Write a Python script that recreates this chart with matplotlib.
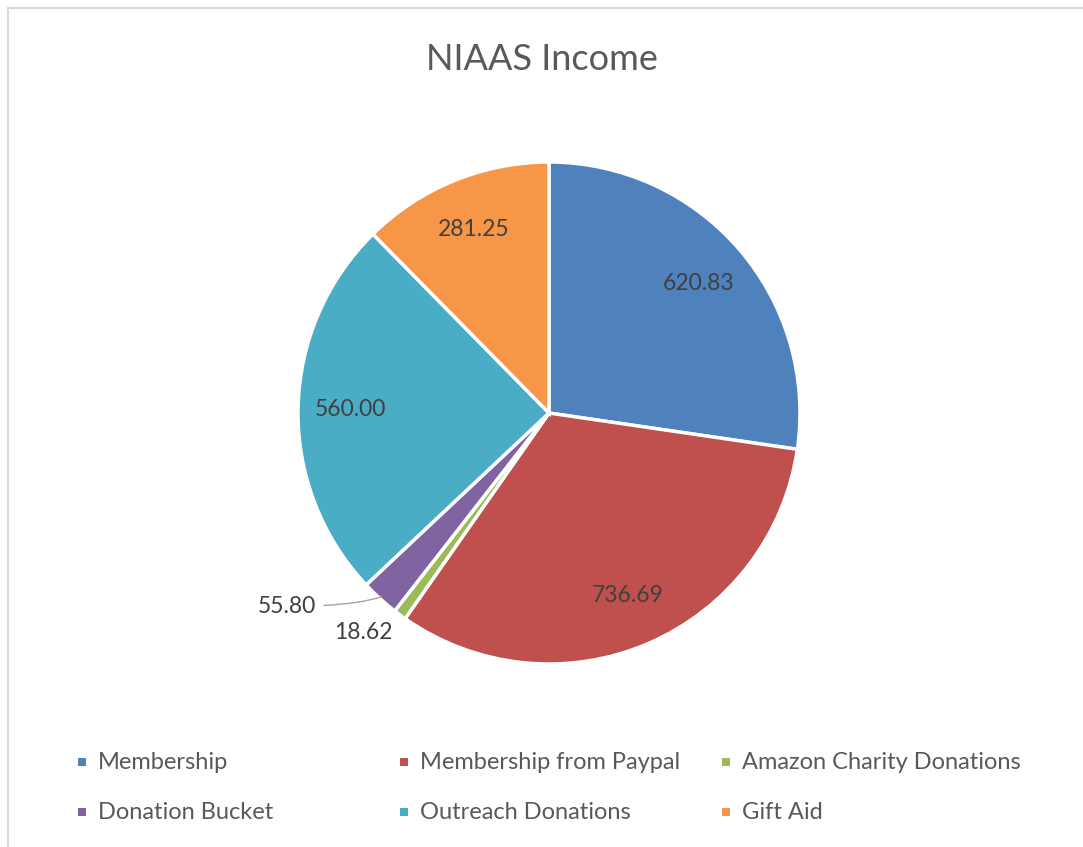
import numpy as np
import matplotlib.pyplot as plt
from matplotlib.patches import Rectangle
from matplotlib.lines import Line2D

labels = ["Membership", "Membership from Paypal", "Amazon Charity Donations",
          "Donation Bucket", "Outreach Donations", "Gift Aid"]
values = [620.83, 736.69, 18.62, 55.80, 560.00, 281.25]
colors = ["#4F81BD", "#C0504D", "#9BBB59", "#8064A2", "#4BACC6", "#F79646"]

plt.rcParams['font.family'] = ['Lato', 'DejaVu Sans']
txt = "#404040"

W, H = 1083, 847
fig = plt.figure(figsize=(W / 100, H / 100), dpi=100)

# light frame (top and left edges visible)
fig.add_artist(Line2D([8 / W, 1], [1 - 8 / H, 1 - 8 / H], transform=fig.transFigure,
                      color="#d9d9d9", lw=1.5))
fig.add_artist(Line2D([8 / W, 8 / W], [0, 1 - 8 / H], transform=fig.transFigure,
                      color="#d9d9d9", lw=1.5))

cx, cy, r = 549, 413, 251
ax = fig.add_axes([(cx - r) / W, 1 - (cy + r) / H, 2 * r / W, 2 * r / H])
wedges, _ = ax.pie(values, colors=colors, startangle=90, counterclock=False,
                   wedgeprops=dict(edgecolor="white", linewidth=2.5))
ax.set_aspect('auto')
ax.set_xlim(-1, 1)
ax.set_ylim(-1, 1)

for i, (w, v) in enumerate(zip(wedges, values)):
    ang = np.deg2rad((w.theta1 + w.theta2) / 2)
    ca, sa = np.cos(ang), np.sin(ang)
    s = f"{v:.2f}"
    if v > 100:
        ax.text(0.79 * ca, 0.79 * sa, s, ha='center', va='center', fontsize=16.5, color=txt)
    elif i == 2:
        ax.text(1.16 * ca - 0.05, 1.16 * sa + 0.06, s, ha='center', va='center',
                fontsize=16.5, color=txt)
    else:
        ax.annotate(s, xy=(0.99 * ca, 0.99 * sa), xytext=(-0.93, -0.77),
                    ha='right', va='center', fontsize=16.5, color=txt,
                    arrowprops=dict(arrowstyle='-', color='#a6a6a6', lw=1,
                                    shrinkA=4, shrinkB=0,
                                    connectionstyle='angle3,angleA=0,angleB=20'))

fig.text(0.5, 1 - 60 / H, "NIAAS Income", ha='center', va='center',
         fontsize=26, color="#595959")

# legend laid out like the spreadsheet one
for i, (lab, col) in enumerate(zip(labels, colors)):
    row, c = divmod(i, 3)
    x0 = 78 + c * 322
    y0 = 762 + row * 50
    fig.add_artist(Rectangle((x0 / W, 1 - (y0 + 4) / H), 8 / W, 8 / H,
                             transform=fig.transFigure, color=col, lw=0))
    fig.text((x0 + 20) / W, 1 - y0 / H, lab, ha='left', va='center',
             fontsize=17, color="#595959")

fig.savefig("out.png", dpi=100)
